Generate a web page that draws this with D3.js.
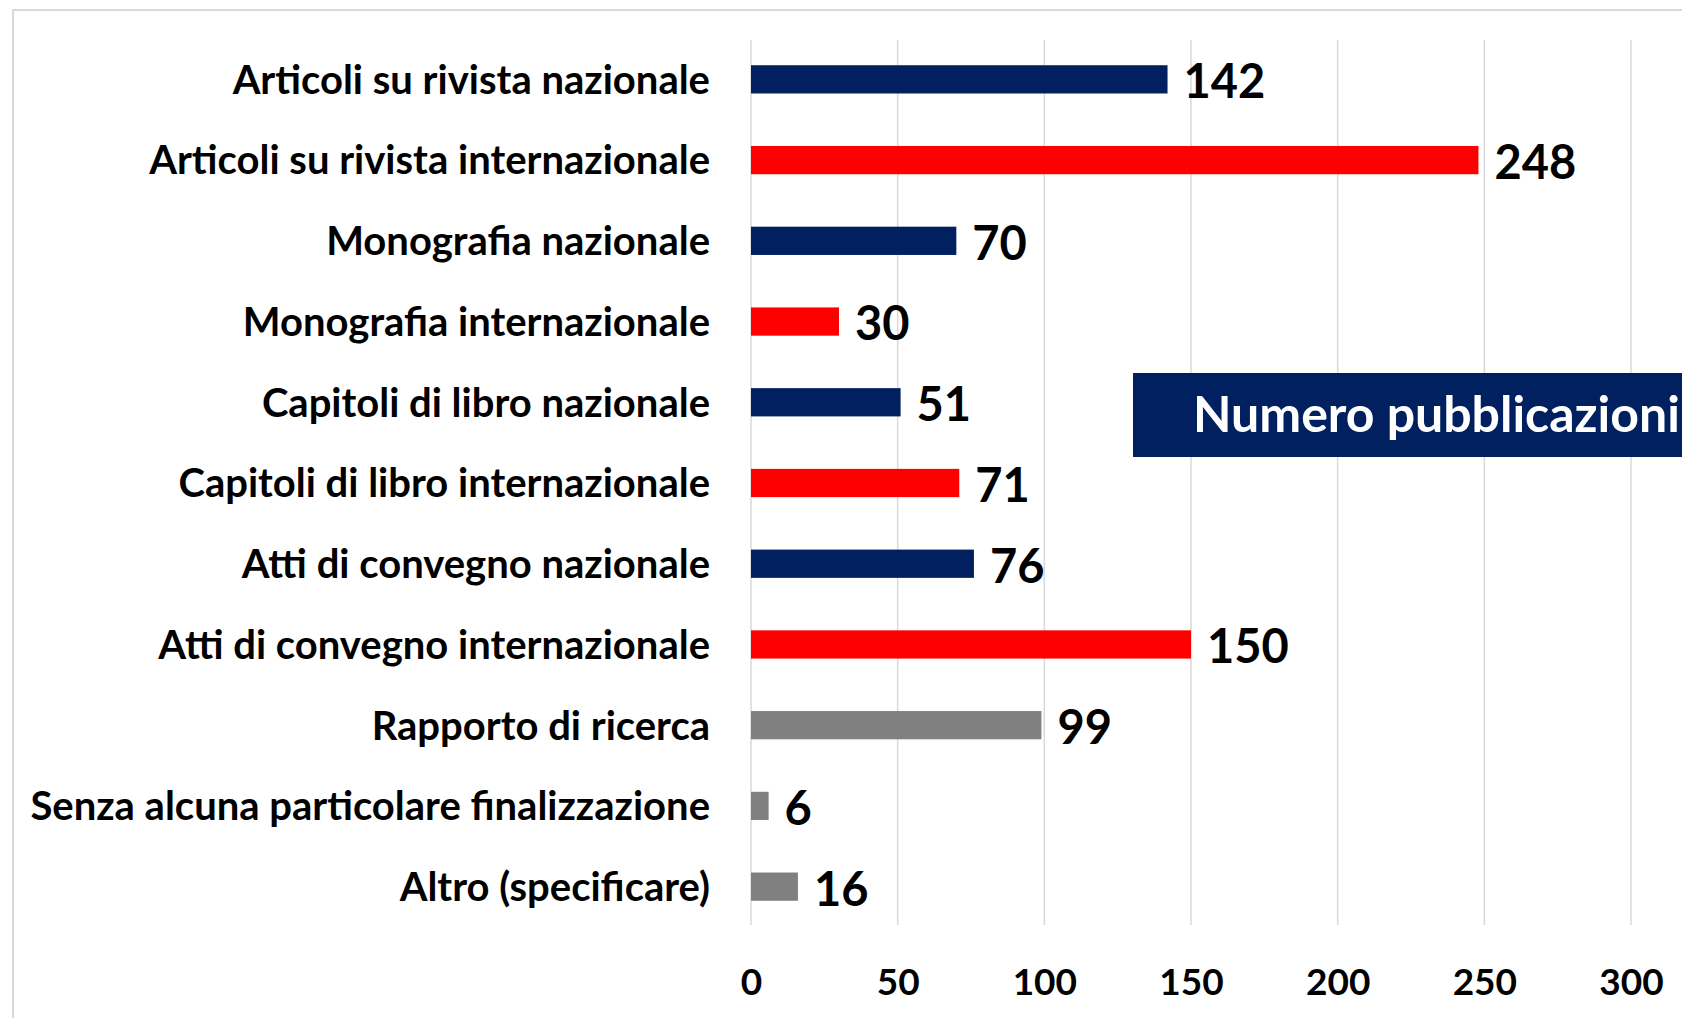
<!DOCTYPE html>
<html>
<head>
<meta charset="utf-8">
<script src="https://cdn.jsdelivr.net/npm/d3@7"></script>
<style>
  body { margin: 0; background: #fff; }
  svg { display: block; }
  text { font-family: Lato, "Open Sans", sans-serif; font-weight: bold; }
</style>
</head>
<body>
<svg></svg>
<script>
// categorie e valori
var categories = [
    "Articoli su rivista nazionale",
    "Articoli su rivista internazionale",
    "Monografia nazionale",
    "Monografia internazionale",
    "Capitoli di libro nazionale",
    "Capitoli di libro internazionale",
    "Atti di convegno nazionale",
    "Atti di convegno internazionale",
    "Rapporto di ricerca",
    "Senza alcuna particolare finalizzazione",
    "Altro (specificare)"
];
var values = [142, 248, 70, 30, 51, 71, 76, 150, 99, 6, 16];
var barColors = ["#002060", "#ff0000", "#002060", "#ff0000", "#002060", "#ff0000",
                 "#002060", "#ff0000", "#808080", "#808080", "#808080"];
var xTicks = [0, 50, 100, 150, 200, 250, 300];
var title = "Numero pubblicazioni";

var svgWidth = 1682, svgHeight = 1018;

var svg = d3.select("svg")
    .attr("width", svgWidth)
    .attr("height", svgHeight);

// cornice grigia del grafico
svg.append("rect")
    .attr("x", 13)
    .attr("y", 10)
    .attr("width", svgWidth + 20)
    .attr("height", svgHeight + 20)
    .attr("fill", "none")
    .attr("stroke", "#d9d9d9")
    .attr("stroke-width", 2);

var x = d3.scaleLinear()
    .domain([0, 300])
    .range([751, 1631]);

var y = d3.scaleBand()
    .domain(categories)
    .range([39, 927])
    .paddingInner(0.65)
    .paddingOuter(0.325);

// griglia verticale
svg.append("g")
    .selectAll("line")
    .data(xTicks)
    .enter()
    .append("line")
    .attr("x1", function (d) { return x(d); })
    .attr("x2", function (d) { return x(d); })
    .attr("y1", 40)
    .attr("y2", 925)
    .attr("stroke", "#d9d9d9")
    .attr("stroke-width", 1.5);

// asse x
var xAxis = svg.append("g")
    .attr("transform", "translate(0,968)")
    .call(d3.axisBottom(x).tickValues(xTicks).tickSize(0).tickPadding(0));
xAxis.select(".domain").remove();
xAxis.selectAll("text")
    .attr("font-family", null)
    .attr("dy", "0.72em")
    .style("font-size", "37px")
    .attr("fill", "#000");

// asse y (etichette categorie)
var yAxis = svg.append("g")
    .attr("transform", "translate(710,0)")
    .call(d3.axisLeft(y).tickSize(0).tickPadding(0));
yAxis.select(".domain").remove();
yAxis.selectAll("text")
    .attr("font-family", null)
    .attr("dy", "0.36em")
    .style("font-size", "40px")
    .attr("fill", "#000");

// barre
svg.selectAll(".bar")
    .data(values)
    .enter()
    .append("rect")
    .attr("class", "bar")
    .attr("x", x(0))
    .attr("y", function (d, i) { return y(categories[i]); })
    .attr("width", function (d) { return x(d) - x(0); })
    .attr("height", y.bandwidth())
    .attr("fill", function (d, i) { return barColors[i]; });

// etichette valori
svg.selectAll(".val")
    .data(values)
    .enter()
    .append("text")
    .attr("class", "val")
    .attr("x", function (d) { return x(d) + 16; })
    .attr("y", function (d, i) { return y(categories[i]) + y.bandwidth() / 2 + 2; })
    .attr("dy", "0.36em")
    .style("font-size", "47px")
    .attr("fill", "#000")
    .text(function (d) { return d; });

// riquadro titolo
svg.append("rect")
    .attr("x", 1133)
    .attr("y", 373)
    .attr("width", 600)
    .attr("height", 84)
    .attr("fill", "#002060");

svg.append("text")
    .attr("x", 1193)
    .attr("y", 432)
    .style("font-size", "50px")
    .attr("fill", "#fff")
    .text(title);
</script>
</body>
</html>
